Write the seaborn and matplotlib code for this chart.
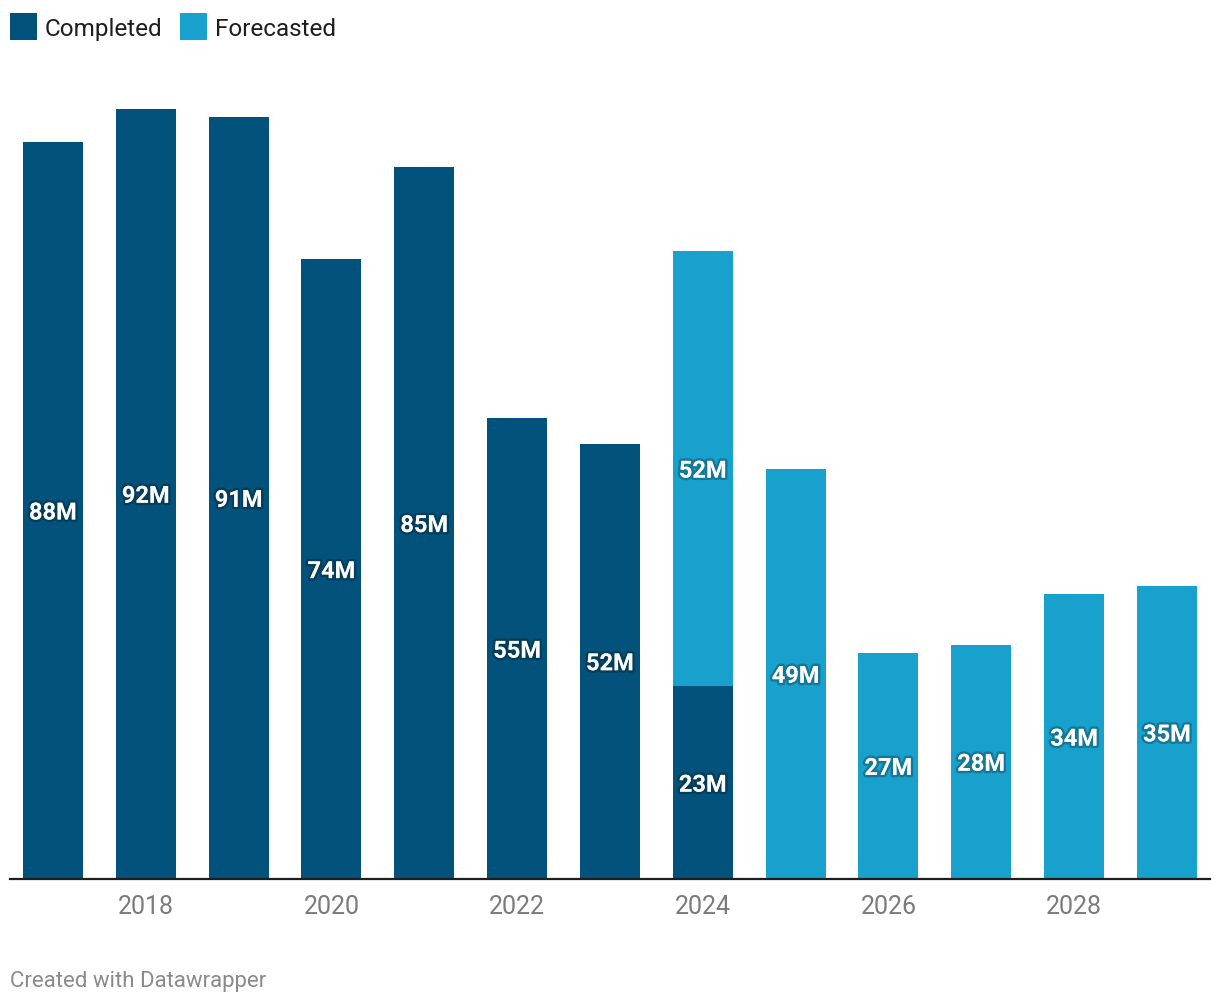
import numpy as np
import pandas as pd
import matplotlib
matplotlib.use('Agg')
import matplotlib.pyplot as plt
import matplotlib.patheffects as pe
from matplotlib.patches import Rectangle
import seaborn as sns

years = ['2017', '2018', '2019', '2020', '2021', '2022', '2023', '2024', '2025', '2026', '2027', '2028', '2029']
completed = [88, 92, 91, 74, 85, 55, 52, 23, np.nan, np.nan, np.nan, np.nan, np.nan]
forecasted = [np.nan, np.nan, np.nan, np.nan, np.nan, np.nan, np.nan, 52, 49, 27, 28, 34, 35]
tick_years = ['2018', '2020', '2022', '2024', '2026', '2028']

DARK = '#03527B'
LIGHT = '#18A1CD'
W, H = 1220, 1004

df = pd.DataFrame({'year': years, 'completed': completed, 'forecasted': forecasted})
df['total'] = df['completed'].fillna(0) + df['forecasted'].fillna(0)

sns.set_style('white')
plt.rcParams['font.family'] = ['Roboto', 'DejaVu Sans']

fig = plt.figure(figsize=(W / 100, H / 100), dpi=100)
ax = fig.add_axes([10 / W, 124 / H, 1200 / W, 820 / H])

# forecast bars drawn as full stack height, completed drawn over them
sns.barplot(data=df, x='year', y='total', order=years, color=LIGHT, saturation=1,
            width=0.646, errorbar=None, linewidth=0, ax=ax)
sns.barplot(data=df, x='year', y='completed', order=years, color=DARK, saturation=1,
            width=0.646, errorbar=None, linewidth=0, ax=ax)

shadow = [pe.withStroke(linewidth=3.5, foreground=(0, 0, 0, 0.25))]
for i, row in df.iterrows():
    c = 0 if np.isnan(row['completed']) else row['completed']
    if c > 0:
        ax.text(i, c / 2, f'{int(c)}M', ha='center', va='center_baseline', color='white',
                fontsize=17, fontweight='bold', path_effects=shadow)
    if not np.isnan(row['forecasted']):
        f = row['forecasted']
        ax.text(i, c + f / 2, f'{int(f)}M', ha='center', va='center_baseline', color='white',
                fontsize=17, fontweight='bold', path_effects=shadow)

ax.set_xlim(-0.463, 12.464)
ax.set_ylim(0, 820 / 8.375)
ax.set_xticks([years.index(y) for y in tick_years])
ax.set_xticklabels(tick_years, fontsize=18, color='#7a7a7a')
ax.tick_params(axis='x', length=0, pad=11)
ax.set_yticks([])
ax.set_xlabel('')
ax.set_ylabel('')
for side in ['top', 'right', 'left']:
    ax.spines[side].set_visible(False)
ax.spines['bottom'].set_color('#1e1e1e')
ax.spines['bottom'].set_linewidth(1.6)

# legend
for x0, col, lab in [(10, DARK, 'Completed'), (180, LIGHT, 'Forecasted')]:
    fig.patches.append(Rectangle((x0 / W, 1 - 41 / H), 27 / W, 27 / H, transform=fig.transFigure,
                                 facecolor=col, edgecolor='none'))
    fig.text((x0 + 35) / W, 1 - 27 / H, lab, fontsize=17.5, color='#1e1e1e',
             ha='left', va='center_baseline')

fig.text(10 / W, 1 - 979 / H, 'Created with Datawrapper', fontsize=16, color='#8a8a8a',
         ha='left', va='center_baseline')

fig.savefig('out.png', dpi=100, facecolor='white')
